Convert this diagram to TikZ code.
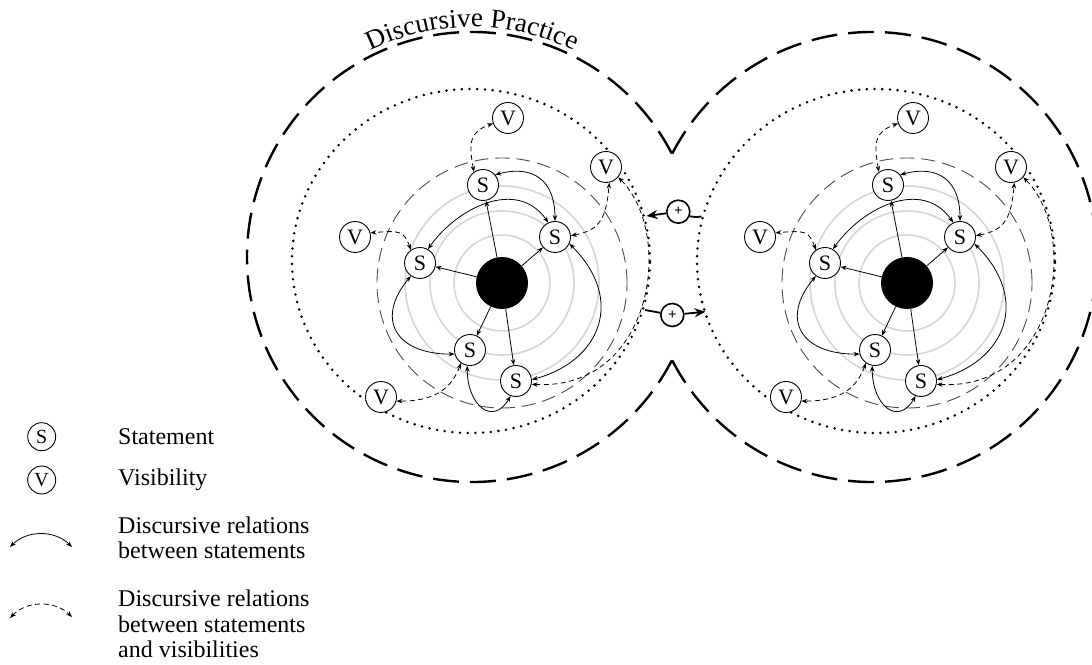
\documentclass[tikz,border=0pt]{standalone}
\usepackage{fontspec}
\setmainfont{Liberation Serif}
\usetikzlibrary{arrows.meta,decorations.text}

\tikzset{
  ring/.style={draw=black!16, line width=1.6pt},
  midring/.style={draw=black!70, line width=0.9pt, dash pattern=on 14pt off 7pt},
  dotring/.style={draw=black, line width=2.8pt, line cap=round, dash pattern=on 0pt off 7.7pt},
  outer/.style={draw=black, line width=2.4pt, dash pattern=on 26pt off 11pt},
  core/.style={circle, fill=black, minimum size=52pt, inner sep=0pt},
  snode/.style={circle, draw=black, fill=white, line width=0.9pt, minimum size=31pt,
    inner sep=0pt, font=\fontsize{22}{22}\selectfont},
  lnode/.style={snode, minimum size=28pt, font=\fontsize{20}{20}\selectfont},
  spoke/.style={draw=black, line width=0.8pt, -{Stealth[length=6pt,width=4.5pt]}},
  srel/.style={draw=black, line width=0.8pt,
    {Stealth[length=6pt,width=4.5pt]}-{Stealth[length=6pt,width=4.5pt]}},
  vrel/.style={srel, dash pattern=on 5pt off 3.5pt},
  plusnode/.style={circle, draw=black, fill=white, line width=1.6pt, minimum size=23pt,
    inner sep=0pt, font=\fontsize{15}{15}\selectfont\bfseries},
  link/.style={draw=black, line width=1.8pt},
  linkarrow/.style={link, -{Stealth[length=11pt,width=9pt]}},
  legtext/.style={anchor=west, inner sep=0pt, align=left, font=\fontsize{24}{25.5}\selectfont},
}

% one practice: core, statements, visibilities and their relations
\newcommand{\clusterbody}{%
  \foreach \r in {48,72,97} {\draw[ring] (0,0) circle[radius=\r];}
  \draw[midring] (0,0) circle[radius=125];
  \draw[dotring] (-31,22) ellipse[x radius=179, y radius=172];
  \node[core] (c) at (0,0) {};
  \node[snode] (st)  at (-19,98)  {S};
  \node[snode] (sr)  at (53,46)   {S};
  \node[snode] (sl)  at (-82,20)  {S};
  \node[snode] (sbl) at (-32,-67) {S};
  \node[snode] (sbr) at (14,-98)  {S};
  \node[snode] (vt)  at (6,165)   {V};
  \node[snode] (vtr) at (104,116) {V};
  \node[snode] (vl)  at (-147,46) {V};
  \node[snode] (vbl) at (-121,-114) {V};
  \foreach \s in {st,sr,sl,sbl,sbr} {\draw[spoke] (c) -- (\s);}
  % relations between statements
  \draw[srel] (st.40) .. controls +(15:40) and +(90:40) .. (sr.90);
  \draw[srel] (sr.115) .. controls +(125:55) and +(55:50) .. (sl.60);
  \draw[srel] (sl.235) .. controls +(230:55) and +(180:60) .. (sbl.195);
  \draw[srel] (sbl.260) .. controls +(270:40) and +(240:35) .. (sbr.250);
  \draw[srel] (sbr.5) .. controls +(15:70) and +(-45:80) .. (sr.-25);
  % relations between statements and visibilities
  \draw[vrel] (st.125) .. controls +(100:30) and +(200:25) .. (vt.200);
  \draw[vrel] (sl.125) .. controls +(110:20) and +(5:30) .. (vl.15);
  \draw[vrel] (sr.5) .. controls +(10:30) and +(265:35) .. (vtr.-78);
  \draw[vrel] (sbl.235) .. controls +(250:30) and +(0:35) .. (vbl.-15);
  \draw[vrel] (sbr.-12) .. controls +(-3:121) and +(-45:81) .. (vtr.-40);
}

\begin{document}
\begin{tikzpicture}[x=1pt,y=1pt]
  \useasboundingbox (0,0) rectangle (1092,664);
  \fill[white] (0,0) rectangle (1092,664);
  \clip (0,0) rectangle (1092,664);

  % outline of the two discursive practices
  \draw[outer] (671.8,510.4) arc[start angle=27.36, end angle=180, radius=225];
  \draw[outer] (671.8,303.6) arc[start angle=-27.36, end angle=-180, radius=225];
  \draw[outer] (672.2,510.4) arc[start angle=152.64, end angle=0, radius=225];
  \draw[outer] (672.2,303.6) arc[start angle=207.36, end angle=360, radius=225];
  \path[decorate, decoration={text along path, text align=center, raise=2pt,
      text={|\fontsize{27}{27}\selectfont|Discursive Practice}}]
    (341.2,593.8) arc[start angle=125, end angle=55, radius=228];

  \begin{scope}[shift={(502,381)}, name prefix=L-]
    \clusterbody
  \end{scope}
  \begin{scope}[shift={(907,381)}, name prefix=R-]
    \clusterbody
  \end{scope}

  % exchanges between the practices
  \coordinate (ta) at (701.5,447.5);
  \node[plusnode] (tp) at (678.3,452.3) {+};
  \coordinate (tb) at (646.5,448);
  \draw[link] (ta) to[bend left=10] (tp);
  \draw[linkarrow] (tp) -- (tb);
  \coordinate (ba) at (645,354);
  \node[plusnode] (bp) at (672.3,349) {+};
  \coordinate (bb) at (705.5,352.3);
  \draw[link] (ba) -- (bp);
  \draw[linkarrow] (bp) -- (bb);

  % legend
  \node[lnode] (ls) at (41.7,227.3) {S};
  \node[legtext] (lst) at (118,227.3) {Statement};
  \node[lnode] (lv) at (41.7,184) {V};
  \node[legtext] (lvt) at (118,184) {Visibility};
  \coordinate (la1) at (10,117);
  \coordinate (la2) at (72,117);
  \draw[srel] (la1) to[bend left=45] (la2);
  \node[legtext] (lat) at (118,126) {Discursive relations\\between statements};
  \coordinate (lb1) at (10,46);
  \coordinate (lb2) at (72,47);
  \draw[vrel] (lb1) to[bend left=45] (lb2);
  \node[legtext] (lbt) at (118,40) {Discursive relations\\between statements\\and visibilities};
\end{tikzpicture}
\end{document}
